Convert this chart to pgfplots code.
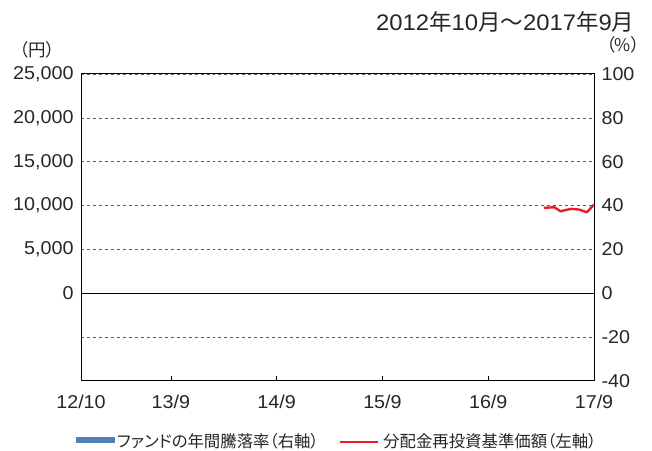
\documentclass[border=0pt]{standalone}
\usepackage{fontspec}
\setmainfont{Liberation Sans}[FakeStretch=1.06]
\newfontfamily\cjk{Noto Sans CJK JP}[RawFeature=+palt]
\usepackage{pgfplots}
\pgfplotsset{compat=1.18}
\definecolor{fundblue}{RGB}{79,129,189}
\definecolor{navred}{RGB}{230,30,40}
\definecolor{gridgray}{RGB}{90,90,90}
\newcommand{\tickfont}{\fontsize{18.6bp}{20bp}\selectfont}
\begin{document}
\begin{tikzpicture}[x=1bp,y=1bp]
\useasboundingbox (-81,-70) rectangle (571,381);
\begin{axis}[at={(0,0)}, anchor=south west, scale only axis,
  width=513bp, height=307bp,
  xmin=0.8, xmax=59, ymin=-10000, ymax=25000,
  scaled y ticks=false,
  xtick={0.8,11,23,35,47,59},
  xticklabels={12/10,13/9,14/9,15/9,16/9,17/9},
  ytick={-5000,0,5000,10000,15000,20000,25000},
  yticklabels={,0,{5,000},{10,000},{15,000},{20,000},{25,000}},
  xtick pos=bottom, ytick pos=left,
  tick align=inside,
  major tick length=5bp,
  x tick style={black, line width=0.6bp},
  y tick style={draw=none},
  ymajorgrids, grid style={dashed, gridgray, line width=0.6bp},
  axis line style={black, line width=1bp},
  tick label style={font=\tickfont, text=black!85},
  yticklabel style={anchor=east, xshift=-4bp},
  xticklabel style={anchor=base, yshift=-28bp},
  clip=false,
]
\addplot[black, line width=0.8bp] coordinates {(0.8,0) (59,0)};
\addplot[navred, line width=2.4bp, line join=round] coordinates {
  (53.3,9739) (54.5,9807) (55.2,9352) (56.4,9625) (57.3,9545) (58.2,9239) (59,10114)};
\end{axis}
\begin{axis}[at={(0,0)}, anchor=south west, scale only axis,
  width=513bp, height=307bp,
  xmin=0.8, xmax=59, ymin=-40, ymax=100,
  hide x axis, axis y line*=right,
  ytick={-40,-20,0,20,40,60,80,100},
  yticklabels={-40,-20,0,20,40,60,80,100},
  y tick style={draw=none},
  axis line style={black, line width=1bp},
  tick label style={font=\tickfont, text=black!85},
  yticklabel style={anchor=west, xshift=4bp},
]
\end{axis}
\node[font=\cjk\fontsize{17.5bp}{19bp}\selectfont, text=black!85] at (-44,331) {（円）};
\node[font=\cjk\fontsize{17.5bp}{19bp}\selectfont, text=black!85] at (542,336) {（\%）};
\node[anchor=east, text=black!85, font=\fontsize{22.5bp}{25bp}\selectfont] at (557,359)
  {2012{\cjk 年}10{\cjk 月～}2017{\cjk 年}9{\cjk 月}};
\fill[fundblue] (-5,-62) rectangle (34,-56);
\node[anchor=west, inner sep=0pt, text=black!85, font=\cjk\fontsize{16.4bp}{18bp}\selectfont] at (36,-60) {ファンドの年間騰落率（右軸）};
\draw[navred, line width=2.4bp] (259,-61) -- (297,-61);
\node[anchor=west, inner sep=0pt, text=black!85, font=\cjk\fontsize{16.4bp}{18bp}\selectfont] at (302,-60) {分配金再投資基準価額（左軸）};
\end{tikzpicture}
\end{document}
